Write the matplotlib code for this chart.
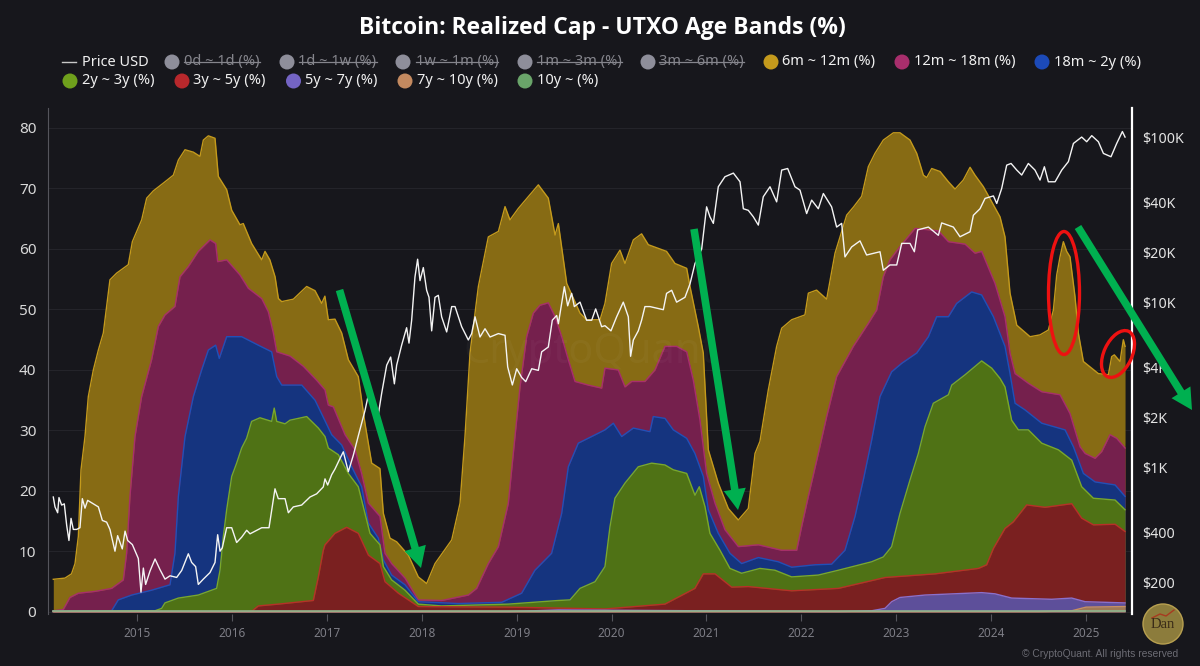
import matplotlib
matplotlib.use('Agg')
import matplotlib.pyplot as plt
from matplotlib.lines import Line2D
from matplotlib.patches import Ellipse, Circle, FancyArrowPatch
from matplotlib.transforms import IdentityTransform

dates_6m_12m = [2014.118, 2014.241, 2014.31, 2014.347, 2014.382, 2014.41, 2014.452, 2014.487, 2014.54, 2014.593,
    2014.645, 2014.68, 2014.715, 2014.785, 2014.908, 2014.951, 2015.049, 2015.102, 2015.172, 2015.295,
    2015.383, 2015.436, 2015.506, 2015.594, 2015.664, 2015.699, 2015.752, 2015.822, 2015.857, 2015.945,
    2015.998, 2016.085, 2016.12, 2016.208, 2016.314, 2016.349, 2016.40, 2016.455, 2016.49, 2016.525,
    2016.647, 2016.788, 2016.876, 2016.946, 2016.98, 2017.016, 2017.086, 2017.157, 2017.227, 2017.332,
    2017.402, 2017.473, 2017.56, 2017.596, 2017.666, 2017.736, 2017.859, 2017.964, 2018.052, 2018.14,
    2018.316, 2018.404, 2018.456, 2018.509, 2018.597, 2018.702, 2018.808, 2018.878, 2018.93, 2019.018,
    2019.229, 2019.334, 2019.405, 2019.44, 2019.528, 2019.668, 2019.738, 2019.879, 2019.931, 2020.001,
    2020.089, 2020.142, 2020.23, 2020.317, 2020.388, 2020.58, 2020.669, 2020.792, 2020.827, 2020.914,
    2020.967, 2021.02, 2021.125, 2021.231, 2021.336, 2021.441, 2021.512, 2021.564, 2021.652, 2021.74,
    2021.793, 2021.898, 2022.038, 2022.074, 2022.161, 2022.267, 2022.355, 2022.478, 2022.548, 2022.636,
    2022.706, 2022.776, 2022.864, 2022.97, 2023.04, 2023.145, 2023.216, 2023.286, 2023.321, 2023.374,
    2023.462, 2023.55, 2023.62, 2023.707, 2023.778, 2023.83, 2023.918, 2024.006, 2024.094, 2024.146,
    2024.199, 2024.27, 2024.41, 2024.515, 2024.603, 2024.656, 2024.691, 2024.726, 2024.761, 2024.796,
    2024.831, 2024.884, 2024.919, 2024.972, 2025.13, 2025.235, 2025.27, 2025.298, 2025.358, 2025.393, 2025.411]
top_6m_12m = [5.4, 5.6, 6.3, 8.0, 12.5, 23.5, 29.0, 35.6, 40.0, 43.3,
    46.1, 50.5, 54.9, 56.0, 57.4, 61.2, 64.8, 68.4, 69.6, 71.1,
    72.2, 74.7, 76.4, 76.0, 75.3, 78.0, 78.7, 78.3, 72.0, 69.8,
    66.4, 64.0, 64.2, 60.9, 58.2, 59.6, 58.2, 55.4, 51.8, 51.3,
    51.7, 53.8, 53.1, 51.0, 52.2, 48.3, 48.4, 46.1, 41.7, 38.9,
    31.2, 24.6, 23.7, 16.3, 12.2, 11.6, 9.4, 5.8, 4.7, 8.0,
    11.9, 18.0, 29.0, 42.8, 53.8, 62.0, 62.9, 67.0, 64.8, 66.7,
    70.6, 68.4, 62.3, 64.2, 54.3, 49.4, 48.3, 48.3, 51.0, 57.6,
    59.8, 57.6, 61.5, 62.5, 60.7, 59.6, 57.6, 56.8, 53.8, 47.2,
    42.8, 26.8, 21.3, 17.1, 15.2, 17.1, 26.2, 28.2, 36.7, 43.9,
    46.9, 48.3, 49.1, 52.7, 53.2, 51.7, 59.3, 65.6, 66.9, 68.7,
    73.6, 75.8, 78.0, 79.2, 79.2, 78.0, 75.8, 72.2, 71.8, 73.3,
    72.8, 71.1, 69.9, 71.4, 73.5, 72.2, 70.3, 67.8, 65.3, 62.0,
    52.7, 47.4, 45.5, 45.8, 46.6, 49.9, 55.7, 58.7, 61.2, 59.6,
    58.7, 52.1, 46.1, 41.4, 39.4, 39.2, 42.2, 42.5, 41.4, 45.0, 43.9]

dates_12m_18m = [2014.118, 2014.223, 2014.294, 2014.382, 2014.557, 2014.733, 2014.856, 2014.891, 2014.926, 2014.979,
    2015.049, 2015.154, 2015.225, 2015.295, 2015.4, 2015.453, 2015.541, 2015.646, 2015.769, 2015.829,
    2015.85, 2015.945, 2016.085, 2016.173, 2016.314, 2016.384, 2016.437, 2016.472, 2016.612, 2016.753,
    2016.893, 2016.981, 2017.016, 2017.069, 2017.192, 2017.297, 2017.367, 2017.438, 2017.56, 2017.613,
    2017.683, 2017.824, 2017.964, 2018.21, 2018.491, 2018.579, 2018.702, 2018.808, 2018.913, 2018.983,
    2019.036, 2019.106, 2019.176, 2019.246, 2019.334, 2019.405, 2019.475, 2019.545, 2019.615, 2019.755,
    2019.896, 2019.931, 2020.071, 2020.142, 2020.212, 2020.352, 2020.458, 2020.563, 2020.686, 2020.792,
    2020.862, 2020.932, 2021.002, 2021.09, 2021.195, 2021.336, 2021.547, 2021.793, 2021.951, 2022.003,
    2022.074, 2022.179, 2022.267, 2022.372, 2022.548, 2022.706, 2022.794, 2022.864, 2022.934, 2023.04,
    2023.198, 2023.444, 2023.55, 2023.725, 2023.83, 2023.9, 2024.041, 2024.146, 2024.199, 2024.252,
    2024.392, 2024.533, 2024.726, 2024.831, 2024.937, 2024.99, 2025.095, 2025.165, 2025.253, 2025.323, 2025.411]
top_12m_18m = [0.2, 0.4, 2.4, 3.1, 3.4, 3.9, 5.3, 9.7, 19.1, 29.0,
    35.6, 41.7, 47.2, 49.1, 50.5, 55.4, 57.1, 59.6, 61.5, 60.9,
    57.9, 58.2, 55.7, 53.5, 51.8, 49.6, 46.1, 43.0, 42.3, 40.6,
    38.3, 36.7, 34.2, 33.9, 29.3, 26.8, 22.9, 18.0, 15.8, 9.7,
    8.0, 5.6, 2.0, 1.9, 2.8, 3.9, 8.0, 10.8, 18.0, 29.0,
    37.2, 45.5, 49.4, 50.7, 51.1, 48.8, 45.5, 41.7, 38.1, 37.5,
    37.0, 40.3, 40.0, 37.2, 38.1, 38.1, 40.0, 43.9, 43.9, 43.0,
    38.3, 31.7, 22.9, 18.0, 13.6, 10.8, 11.1, 10.2, 10.2, 14.1,
    19.1, 26.2, 32.3, 38.9, 43.9, 47.7, 49.9, 55.4, 58.2, 60.4,
    63.4, 63.0, 61.2, 60.8, 59.3, 59.6, 54.3, 48.8, 42.8, 39.4,
    37.8, 36.4, 35.9, 32.8, 27.3, 26.2, 25.4, 26.5, 29.3, 28.7, 27.1]

dates_18m_2y = [2014.118, 2014.733, 2014.803, 2014.944, 2015.154, 2015.348, 2015.4, 2015.436, 2015.506, 2015.594,
    2015.681, 2015.752, 2015.829, 2015.867, 2015.945, 2016.103, 2016.278, 2016.419, 2016.472, 2016.525,
    2016.736, 2016.876, 2016.981, 2017.051, 2017.157, 2017.262, 2017.367, 2017.438, 2017.543, 2017.596,
    2017.683, 2017.824, 2017.964, 2018.386, 2018.843, 2019.053, 2019.193, 2019.369, 2019.475, 2019.545,
    2019.65, 2019.791, 2019.931, 2020.019, 2020.107, 2020.23, 2020.405, 2020.44, 2020.563, 2020.651,
    2020.792, 2020.879, 2020.967, 2021.02, 2021.125, 2021.248, 2021.371, 2021.547, 2021.757, 2021.898,
    2022.144, 2022.319, 2022.46, 2022.566, 2022.653, 2022.741, 2022.829, 2022.952, 2023.058, 2023.216,
    2023.339, 2023.426, 2023.55, 2023.637, 2023.795, 2023.9, 2024.024, 2024.146, 2024.199, 2024.252,
    2024.357, 2024.533, 2024.779, 2024.867, 2024.972, 2025.095, 2025.306, 2025.411]
top_18m_2y = [0.1, 0.2, 2.0, 2.8, 3.6, 4.5, 9.7, 19.1, 29.0, 35.6,
    40.0, 43.3, 44.1, 41.9, 45.5, 45.5, 44.1, 43.0, 38.9, 37.5,
    37.5, 35.0, 31.6, 29.3, 27.6, 24.0, 20.7, 14.7, 12.2, 8.6,
    6.1, 4.5, 1.7, 1.4, 1.6, 3.1, 6.9, 9.7, 16.3, 24.0,
    27.9, 29.0, 30.1, 31.2, 29.0, 30.4, 29.8, 32.3, 32.0, 30.1,
    28.7, 26.2, 22.4, 16.9, 13.0, 9.7, 8.0, 9.0, 8.3, 7.4,
    7.8, 7.9, 10.2, 15.8, 21.8, 28.4, 35.6, 39.7, 41.1, 42.8,
    45.5, 48.8, 48.8, 51.0, 52.9, 52.4, 48.8, 43.9, 39.4, 34.5,
    33.4, 31.2, 30.1, 27.3, 22.9, 21.5, 21.0, 19.1]

dates_2y_3y = [2014.118, 2015.19, 2015.26, 2015.295, 2015.436, 2015.646, 2015.839, 2015.875, 2015.91, 2015.945,
    2015.998, 2016.05, 2016.103, 2016.155, 2016.208, 2016.296, 2016.419, 2016.446, 2016.472, 2016.56,
    2016.612, 2016.788, 2016.911, 2016.981, 2017.016, 2017.121, 2017.227, 2017.332, 2017.402, 2017.455,
    2017.56, 2017.596, 2017.683, 2017.824, 2017.964, 2018.21, 2018.913, 2019.44, 2019.563, 2019.668,
    2019.826, 2019.931, 2019.984, 2020.036, 2020.142, 2020.282, 2020.423, 2020.563, 2020.651, 2020.792,
    2020.879, 2020.925, 2020.985, 2021.037, 2021.143, 2021.248, 2021.371, 2021.564, 2021.722, 2021.898,
    2022.179, 2022.39, 2022.741, 2022.864, 2022.952, 2023.04, 2023.145, 2023.233, 2023.303, 2023.391,
    2023.55, 2023.585, 2023.725, 2023.9, 2024.006, 2024.094, 2024.146, 2024.216, 2024.287, 2024.392,
    2024.533, 2024.709, 2024.849, 2024.954, 2025.077, 2025.306, 2025.411]
top_2y_3y = [0.1, 0.2, 0.6, 1.5, 2.3, 2.8, 3.9, 6.9, 12.5, 16.9,
    22.4, 24.6, 27.1, 28.7, 31.5, 32.1, 31.5, 33.7, 31.5, 31.1,
    31.7, 32.3, 30.4, 29.0, 27.1, 26.0, 22.9, 20.7, 16.3, 13.0,
    11.1, 7.5, 5.3, 3.6, 1.3, 1.0, 1.3, 1.9, 2.0, 3.9,
    5.0, 7.5, 14.1, 18.8, 21.3, 24.0, 24.6, 24.3, 23.5, 22.9,
    19.3, 20.7, 17.4, 13.0, 10.2, 7.2, 6.4, 7.2, 6.9, 5.8,
    6.1, 6.9, 8.3, 9.1, 10.8, 16.3, 21.8, 26.2, 30.6, 34.5,
    35.9, 37.5, 39.2, 41.5, 40.3, 38.6, 37.2, 31.7, 30.1, 30.1,
    27.9, 26.8, 25.1, 20.7, 18.8, 18.5, 16.9]

dates_3y_5y = [2014.118, 2016.208, 2016.278, 2016.489, 2016.858, 2016.911, 2016.963, 2016.981, 2017.086, 2017.209,
    2017.332, 2017.438, 2017.56, 2017.613, 2017.754, 2017.964, 2018.913, 2019.931, 2020.563, 2020.879,
    2020.967, 2021.09, 2021.266, 2021.441, 2021.898, 2022.39, 2022.882, 2023.409, 2023.866, 2023.953,
    2024.024, 2024.146, 2024.234, 2024.375, 2024.568, 2024.849, 2024.954, 2025.077, 2025.306, 2025.411]
top_3y_5y = [0.05, 0.1, 1.0, 1.3, 1.9, 5.8, 10.2, 11.1, 13.0, 14.0,
    13.0, 9.4, 8.0, 5.0, 3.1, 0.9, 0.8, 0.5, 1.3, 3.9,
    6.3, 6.3, 4.1, 4.2, 3.5, 3.9, 5.7, 6.3, 7.2, 7.8,
    10.5, 13.8, 14.9, 17.7, 17.3, 17.9, 15.5, 14.4, 14.5, 13.3]

dates_5y_7y = [2014.118, 2018.913, 2019.44, 2019.931, 2022.39, 2022.741, 2022.882, 2022.952, 2023.04, 2023.303,
    2023.9, 2024.041, 2024.216, 2024.638, 2024.849, 2024.99, 2025.411]
top_5y_7y = [0.05, 0.05, 0.35, 0.3, 0.05, 0.2, 0.6, 1.7, 2.4, 2.8,
    3.2, 3.0, 2.3, 2.1, 2.3, 1.7, 1.5]

dates_7y_10y = [2014.118, 2024.5, 2024.85, 2025.0, 2025.411]
top_7y_10y = [0.05, 0.05, 0.2, 0.8, 0.9]

dates_10y = [2014.118, 2025.411]
top_10y = [0.1, 0.1]

dates_price = [2014.118, 2014.136, 2014.164, 2014.178, 2014.206, 2014.234, 2014.259, 2014.283, 2014.305, 2014.329,
    2014.364, 2014.399, 2014.424, 2014.452, 2014.48, 2014.54, 2014.593, 2014.635, 2014.68, 2014.715,
    2014.768, 2014.796, 2014.845, 2014.874, 2014.902, 2014.951, 2015.014, 2015.042, 2015.067, 2015.091,
    2015.137, 2015.19, 2015.242, 2015.295, 2015.348, 2015.418, 2015.471, 2015.541, 2015.576, 2015.618,
    2015.646, 2015.699, 2015.769, 2015.822, 2015.85, 2015.875, 2015.899, 2015.945, 2015.998, 2016.05,
    2016.103, 2016.156, 2016.191, 2016.314, 2016.391, 2016.454, 2016.489, 2016.56, 2016.595, 2016.647,
    2016.735, 2016.823, 2016.893, 2016.963, 2016.981, 2017.009, 2017.051, 2017.086, 2017.139, 2017.174,
    2017.227, 2017.279, 2017.332, 2017.402, 2017.438, 2017.49, 2017.543, 2017.578, 2017.631, 2017.673,
    2017.712, 2017.736, 2017.789, 2017.841, 2017.866, 2017.894, 2017.929, 2017.957, 2017.982, 2018.017,
    2018.052, 2018.077, 2018.105, 2018.14, 2018.175, 2018.21, 2018.263, 2018.316, 2018.351, 2018.421,
    2018.491, 2018.526, 2018.562, 2018.614, 2018.667, 2018.72, 2018.808, 2018.878, 2018.906, 2018.955,
    2019.001, 2019.053, 2019.096, 2019.159, 2019.229, 2019.264, 2019.334, 2019.376, 2019.422, 2019.44,
    2019.503, 2019.538, 2019.58, 2019.608, 2019.668, 2019.738, 2019.791, 2019.833, 2019.896, 2019.931,
    2019.994, 2020.054, 2020.124, 2020.177, 2020.201, 2020.23, 2020.282, 2020.317, 2020.352, 2020.405,
    2020.546, 2020.58, 2020.634, 2020.686, 2020.774, 2020.827, 2020.879, 2020.95, 2021.002, 2021.037,
    2021.073, 2021.125, 2021.195, 2021.284, 2021.354, 2021.389, 2021.441, 2021.494, 2021.547, 2021.599,
    2021.67, 2021.74, 2021.793, 2021.856, 2021.933, 2021.986, 2022.056, 2022.109, 2022.179, 2022.232,
    2022.319, 2022.372, 2022.425, 2022.46, 2022.53, 2022.618, 2022.688, 2022.829, 2022.864, 2022.934,
    2023.005, 2023.058, 2023.145, 2023.191, 2023.226, 2023.339, 2023.444, 2023.479, 2023.602, 2023.672,
    2023.778, 2023.813, 2023.883, 2023.936, 2024.024, 2024.059, 2024.111, 2024.164, 2024.21, 2024.27,
    2024.322, 2024.392, 2024.462, 2024.515, 2024.561, 2024.603, 2024.674, 2024.744, 2024.814, 2024.867,
    2024.954, 2025.007, 2025.06, 2025.13, 2025.183, 2025.263, 2025.323, 2025.383, 2025.411]
price_usd = [660, 575, 530, 655, 590, 600, 445, 360, 490, 420,
    420, 430, 645, 565, 630, 600, 575, 476, 465, 420,
    310, 385, 320, 410, 360, 340, 280, 175, 245, 195,
    235, 278, 240, 210, 220, 215, 237, 299, 265, 250,
    195, 210, 230, 265, 390, 310, 325, 430, 430, 350,
    377, 415, 395, 430, 430, 740, 645, 645, 530, 575,
    590, 660, 690, 760, 850, 780, 900, 975, 1130, 1240,
    940, 1180, 1550, 2200, 2750, 2500, 2090, 2800, 4150, 4650,
    3200, 4150, 5500, 7000, 5650, 7770, 14200, 18200, 13500, 16200,
    11800, 10700, 6700, 10700, 11000, 8150, 6600, 9400, 9400, 7100,
    5900, 6450, 8150, 6150, 6900, 6150, 6450, 6300, 4050, 3150,
    3950, 3500, 3300, 3950, 3860, 5000, 5350, 7770, 8300, 7400,
    12400, 9500, 11300, 9400, 10000, 7770, 7770, 9100, 7100, 7200,
    6700, 8150, 10000, 8150, 4700, 5900, 6700, 7770, 9400, 9400,
    9000, 11300, 11800, 10000, 10700, 12900, 17100, 21000, 37800, 32900,
    30000, 50000, 57500, 60500, 53600, 36800, 36000, 32900, 29300, 43500,
    50000, 40500, 63100, 64500, 50000, 47700, 34400, 41500, 36800, 45500,
    37800, 28500, 30000, 18800, 21600, 23500, 19300, 20200, 15600, 16800,
    16800, 22700, 22700, 20200, 27400, 28500, 25400, 30200, 28500, 24900,
    26700, 33600, 36800, 42500, 44000, 39600, 48800, 67600, 69200, 63100,
    58900, 69200, 63100, 54900, 66100, 53600, 53600, 63100, 71000, 91500,
    100000, 93700, 102000, 93700, 79600, 76000, 91500, 108000, 100000]

year_ticks = [2015, 2016, 2017, 2018, 2019, 2020, 2021, 2022, 2023, 2024, 2025]
pct_ticks = [0, 10, 20, 30, 40, 50, 60, 70, 80]
usd_ticks = [200, 400, 1000, 2000, 4000, 10000, 20000, 40000, 100000]
usd_labels = ['$200', '$400', '$1K', '$2K', '$4K', '$10K', '$20K', '$40K', '$100K']

legend_row1 = ['0d ~ 1d (%)', '1d ~ 1w (%)', '1w ~ 1m (%)', '1m ~ 3m (%)', '3m ~ 6m (%)',
               '6m ~ 12m (%)', '12m ~ 18m (%)', '18m ~ 2y (%)']
legend_row2 = ['2y ~ 3y (%)', '3y ~ 5y (%)', '5y ~ 7y (%)', '7y ~ 10y (%)', '10y ~ (%)']

BG = '#17171c'
W, H = 1200, 666
plt.rcParams['font.family'] = ['Noto Sans', 'DejaVu Sans']

fig = plt.figure(figsize=(12, 6.66), dpi=100, facecolor=BG)


def py(y):
    # top-down pixel row to figure pixels
    return H - y


ax = fig.add_axes([47.5 / W, py(613.5) / H, (1131.5 - 47.5) / W, (613.5 - 108) / H], facecolor=BG)
ax.set_xlim(2014.057, 2025.479)
ax.set_ylim(-0.25, 83.3)

bands = [
    (dates_6m_12m, top_6m_12m, '#876b14', '#c49a1c'),
    (dates_12m_18m, top_12m_18m, '#75204d', '#a82e6c'),
    (dates_18m_2y, top_18m_2y, '#15347f', '#2050b8'),
    (dates_2y_3y, top_2y_3y, '#4f7215', '#7aa82a'),
    (dates_3y_5y, top_3y_5y, '#7a2020', '#b83028'),
    (dates_5y_7y, top_5y_7y, '#5d4f9a', '#8a70cc'),
    (dates_7y_10y, top_7y_10y, '#a07a55', '#c89060'),
]
for x, y, fill, edge in bands:
    ax.fill_between(x, 0, y, color=fill, lw=0, zorder=2)
    ax.plot(x, y, color=edge, lw=1.0, zorder=2)
ax.plot(dates_10y, top_10y, color='#8fb58f', lw=1.2, zorder=3)

ax.set_yticks(pct_ticks)
ax.set_xticks(year_ticks)
ax.set_xticklabels([str(y) for y in year_ticks])
ax.grid(axis='y', color='#24242a', lw=0.8, zorder=0)
ax.set_axisbelow(True)
ax.tick_params(axis='y', length=0, pad=8, labelsize=11, labelcolor='#d8d8d8')
ax.tick_params(axis='x', length=5, width=0.8, color='#55555c', pad=5, labelsize=8.5, labelcolor='#7d7d85')
for s in ('top', 'right', 'bottom'):
    ax.spines[s].set_visible(False)
ax.spines['left'].set_color('#55555c')

ax2 = ax.twinx()
ax2.set_yscale('log')
ax2.set_ylim(130, 150000)
ax2.plot(dates_price, price_usd, color='#f4f4f4', lw=1.0, zorder=5)
ax2.set_yticks(usd_ticks)
ax2.set_yticklabels(usd_labels)
ax2.minorticks_off()
ax2.tick_params(axis='y', length=0, pad=8, labelsize=10.2, labelcolor='#e4e4e4')
for s in ('top', 'left', 'bottom'):
    ax2.spines[s].set_visible(False)
ax2.spines['right'].set_color('white')
ax2.spines['right'].set_linewidth(1.6)

ax.text(590, py(352), 'CryptoQuant', transform=IdentityTransform(), color='white', alpha=0.03,
        fontsize=30, fontweight='bold', ha='center', va='center', zorder=4)

fig.text(602.5 / W, py(28) / H, 'Bitcoin: Realized Cap - UTXO Age Bands (%)', color='white',
         fontsize=16.5, fontweight='bold', family=['Open Sans', 'DejaVu Sans'], ha='center', va='center')


# legend, built by hand so the switched-off entries can be struck through
def legend_item(cx, tx, y, label, color, off=False):
    fig.add_artist(Circle((cx, py(y)), 7.5, transform=IdentityTransform(), facecolor=color, edgecolor='none'))
    t = fig.text(tx / W, py(y) / H, label, color='#85858c' if off else '#f0f0f0', fontsize=10.5,
                 ha='left', va='center')
    if off:
        bb = t.get_window_extent(fig.canvas.get_renderer())
        fig.add_artist(Line2D([bb.x0, bb.x1], [py(y), py(y)], transform=IdentityTransform(),
                              color='#85858c', lw=0.9))


fig.add_artist(Line2D([62, 76], [py(62), py(62)], transform=IdentityTransform(), color='#c8c8c8', lw=1))
fig.text(81.5 / W, py(62) / H, 'Price USD', color='#f0f0f0', fontsize=10.5, ha='left', va='center')

row1_cx = [172, 287, 403, 525, 648, 771, 902, 1042]
row1_tx = [184, 298.5, 415.5, 537, 659, 782, 914, 1053.5]
row1_col = ['#8e8e9a'] * 5 + ['#c49a1c', '#a82e6c', '#1c4ab8']
for i, lab in enumerate(legend_row1):
    legend_item(row1_cx[i], row1_tx[i], 62, lab, row1_col[i], off=i < 5)

row2_cx = [70, 182, 293.5, 405, 525]
row2_tx = [81.5, 193, 305, 417, 537]
row2_col = ['#6fa01c', '#b8282c', '#7464c4', '#c48a60', '#6aa56a']
for i, lab in enumerate(legend_row2):
    legend_item(row2_cx[i], row2_tx[i], 81, lab, row2_col[i])

# hand-drawn annotations sitting on the chart
for start, tip in [((339.5, 290), (421, 568)), ((694, 229), (738, 510)), ((1078, 227), (1192, 410))]:
    fig.add_artist(FancyArrowPatch((start[0], py(start[1])), (tip[0], py(tip[1])), transform=IdentityTransform(),
                                   arrowstyle='simple,head_width=16,head_length=15,tail_width=5.5',
                                   mutation_scale=1, shrinkA=0, shrinkB=0, facecolor='#00b050',
                                   edgecolor='none', zorder=6))
fig.add_artist(Ellipse((1064, py(293)), 31, 123, transform=IdentityTransform(), fill=False,
                       edgecolor='#ee1111', lw=2.4, zorder=7))
fig.add_artist(Ellipse((1118, py(354)), 28, 50, angle=-25, transform=IdentityTransform(), fill=False,
                       edgecolor='#ee1111', lw=2.4, zorder=7))

# logo and footer
fig.add_artist(Circle((1163, py(624)), 20, transform=IdentityTransform(), facecolor='#8c7c3c',
                      edgecolor='#b8a050', lw=1))
fig.add_artist(Line2D([1152, 1160, 1166, 1174], [py(618), py(614), py(616), py(610)],
                      transform=IdentityTransform(), color='#a83a20', lw=1))
fig.text(1163 / W, py(624) / H, 'Dan', color='#3a2c18', fontsize=10.5, family='Liberation Serif',
         ha='center', va='center')
fig.text(1178 / W, py(654) / H, '\u00a9 CryptoQuant. All rights reserved', color='#6c6c74', fontsize=7.4,
         family='Liberation Sans', ha='right', va='center')

fig.savefig('out.png', dpi=100, facecolor=BG)
